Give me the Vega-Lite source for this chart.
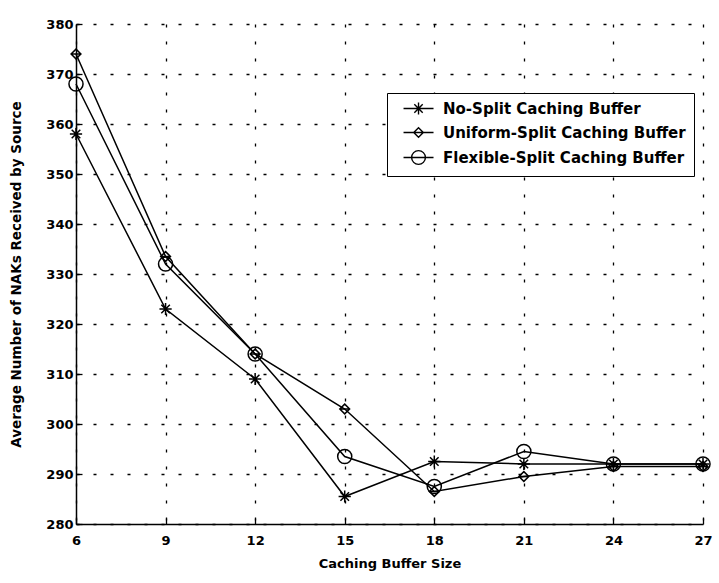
{
  "$schema": "https://vega.github.io/schema/vega-lite/v6.json",
  "width": 627,
  "height": 500,
  "autosize": {"type": "none"},
  "padding": {"left": 76, "top": 24, "right": 16, "bottom": 59},
  "background": "white",
  "config": {"view": {"stroke": null}, "font": "DejaVu Sans"},
  "data": {
    "values": [
      {"series": "No-Split Caching Buffer", "size": 6, "naks": 358},
      {"series": "No-Split Caching Buffer", "size": 9, "naks": 323},
      {"series": "No-Split Caching Buffer", "size": 12, "naks": 309},
      {"series": "No-Split Caching Buffer", "size": 15, "naks": 285.5},
      {"series": "No-Split Caching Buffer", "size": 18, "naks": 292.5},
      {"series": "No-Split Caching Buffer", "size": 21, "naks": 292},
      {"series": "No-Split Caching Buffer", "size": 24, "naks": 292},
      {"series": "No-Split Caching Buffer", "size": 27, "naks": 292},
      {"series": "Uniform-Split Caching Buffer", "size": 6, "naks": 374},
      {"series": "Uniform-Split Caching Buffer", "size": 9, "naks": 333.5},
      {"series": "Uniform-Split Caching Buffer", "size": 12, "naks": 314},
      {"series": "Uniform-Split Caching Buffer", "size": 15, "naks": 303},
      {"series": "Uniform-Split Caching Buffer", "size": 18, "naks": 286.5},
      {"series": "Uniform-Split Caching Buffer", "size": 21, "naks": 289.5},
      {"series": "Uniform-Split Caching Buffer", "size": 24, "naks": 291.5},
      {"series": "Uniform-Split Caching Buffer", "size": 27, "naks": 291.5},
      {"series": "Flexible-Split Caching Buffer", "size": 6, "naks": 368},
      {"series": "Flexible-Split Caching Buffer", "size": 9, "naks": 332},
      {"series": "Flexible-Split Caching Buffer", "size": 12, "naks": 314},
      {"series": "Flexible-Split Caching Buffer", "size": 15, "naks": 293.5},
      {"series": "Flexible-Split Caching Buffer", "size": 18, "naks": 287.5},
      {"series": "Flexible-Split Caching Buffer", "size": 21, "naks": 294.5},
      {"series": "Flexible-Split Caching Buffer", "size": 24, "naks": 292},
      {"series": "Flexible-Split Caching Buffer", "size": 27, "naks": 292}
    ]
  },
  "encoding": {
    "x": {
      "field": "size",
      "type": "quantitative",
      "scale": {"domain": [6, 27], "nice": false, "zero": false},
      "axis": {
        "values": [6, 9, 12, 15, 18, 21, 24, 27],
        "title": "Caching Buffer Size",
        "grid": true,
        "gridColor": "black",
        "gridDash": [3, 14],
        "gridWidth": 1.3,
        "gridOpacity": 1,
        "domainColor": "black",
        "domainWidth": 1.5,
        "tickColor": "black",
        "tickSize": -6,
        "tickWidth": 1.3,
        "labelFont": "DejaVu Sans",
        "labelFontSize": 13,
        "labelFontWeight": "bold",
        "labelColor": "black",
        "labelPadding": 16,
        "labelFlush": false,
        "titleFont": "DejaVu Sans",
        "titleFontSize": 13,
        "titleFontWeight": "bold",
        "titleColor": "black",
        "titlePadding": 10
      }
    },
    "y": {
      "field": "naks",
      "type": "quantitative",
      "scale": {"domain": [280, 380], "nice": false, "zero": false},
      "axis": {
        "values": [280, 290, 300, 310, 320, 330, 340, 350, 360, 370, 380],
        "title": "Average Number of NAKs Received by Source",
        "grid": true,
        "gridColor": "black",
        "gridDash": [3, 14],
        "gridWidth": 1.3,
        "gridOpacity": 1,
        "domainColor": "black",
        "domainWidth": 1.5,
        "tickColor": "black",
        "tickSize": -6,
        "tickWidth": 1.3,
        "labelFont": "DejaVu Sans",
        "labelFontSize": 13,
        "labelFontWeight": "bold",
        "labelColor": "black",
        "labelPadding": 9,
        "labelFlush": false,
        "titleFont": "DejaVu Sans",
        "titleFontSize": 13.5,
        "titleFontWeight": "bold",
        "titleColor": "black",
        "titlePadding": 22
      }
    }
  },
  "layer": [
    {
      "mark": {"type": "line", "color": "black", "strokeWidth": 1.5},
      "encoding": {"detail": {"field": "series", "type": "nominal"}}
    },
    {
      "mark": {"type": "point", "filled": false, "color": "black", "strokeWidth": 1.5, "size": 150, "opacity": 1},
      "encoding": {
        "shape": {
          "field": "series",
          "type": "nominal",
          "scale": {
            "domain": ["No-Split Caching Buffer", "Uniform-Split Caching Buffer", "Flexible-Split Caching Buffer"],
            "range": [
              "M-1,0L1,0M0,-1L0,1M-0.7,-0.7L0.7,0.7M-0.7,0.7L0.7,-0.7",
              "M0,-0.8L0.8,0L0,0.8L-0.8,0ZM-0.8,0L0.8,0",
              "M1.15,0A1.15,1.15,0,1,1,-1.15,0A1.15,1.15,0,1,1,1.15,0Z"
            ]
          },
          "legend": null
        }
      }
    },
    {
      "mark": {"type": "point", "filled": false, "color": "black", "strokeWidth": 1.4, "size": 144, "opacity": 0},
      "encoding": {
        "shape": {
          "field": "series",
          "type": "nominal",
          "scale": {
            "domain": ["No-Split Caching Buffer", "Uniform-Split Caching Buffer", "Flexible-Split Caching Buffer"],
            "range": [
              "M0.17,0L5.17,0M2.67,-1L2.67,1M1.97,-0.7L3.37,0.7M1.97,0.7L3.37,-0.7",
              "M0.17,0L5.17,0M2.67,-0.8L3.47,0L2.67,0.8L1.87,0Z",
              "M0.17,0L5.17,0M3.82,0A1.15,1.15,0,1,1,1.52,0A1.15,1.15,0,1,1,3.82,0Z"
            ]
          },
          "legend": {
            "orient": "none",
            "legendX": 311,
            "legendY": 69,
            "title": null,
            "padding": 8,
            "strokeColor": "black",
            "fillColor": "white",
            "cornerRadius": 0,
            "symbolSize": 144,
            "symbolOpacity": 1,
            "symbolStrokeWidth": 1.4,
            "symbolStrokeColor": "black",
            "symbolFillColor": "transparent",
            "labelFont": "DejaVu Sans",
            "labelFontSize": 15,
            "labelFontWeight": "bold",
            "labelColor": "black",
            "labelOffset": 33,
            "labelLimit": 400,
            "rowPadding": 6
          }
        }
      }
    }
  ],
  "resolve": {"scale": {"shape": "independent"}, "legend": {"shape": "independent"}}
}
